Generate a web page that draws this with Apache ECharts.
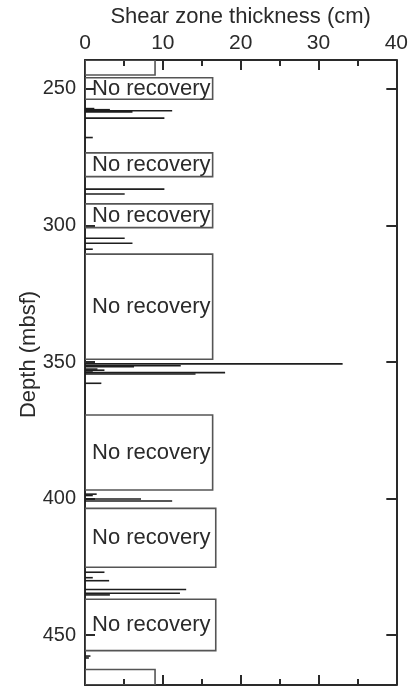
<!DOCTYPE html>
<html>
<head>
<meta charset="utf-8">
<script src="https://cdn.jsdelivr.net/npm/echarts@6/dist/echarts.min.js"></script>
<style>
  html, body { margin: 0; padding: 0; background: #fff; }
  #chart { width: 411px; height: 687px; }
</style>
</head>
<body>
<div id="chart"></div>
<script>
// Shear zones: depth (mbsf) and thickness (cm)
const shearDepth = [
  257.2, 257.6, 258.0, 258.4, 260.7, 267.8,
  286.7, 288.5,
  304.7, 306.5, 308.7,
  350.7, 351.4, 351.7, 352.6, 353.0, 353.3, 353.9, 354.4, 357.8,
  398.4, 398.9, 400.2, 400.9,
  427.0, 429.0, 430.1, 433.3, 434.7, 435.3,
  457.7, 458.4
];
const shearThickness = [
  1.2, 3.2, 11.2, 6.1, 10.2, 1.0,
  10.2, 5.1,
  5.1, 6.1, 1.0,
  33.1, 12.3, 6.3, 1.6, 2.5, 1.0, 18.0, 14.2, 2.1,
  1.5, 1.0, 7.2, 11.2,
  2.5, 1.0, 3.1, 13.0, 12.2, 3.2,
  0.7, 0.5
];

// Intervals without core recovery: top, bottom (mbsf), box width (cm), label
const gapTop    = [239.4, 245.9, 273.4, 292.1, 310.5, 369.4, 403.6, 436.9, 462.6];
const gapBottom = [244.9, 253.8, 282.1, 300.8, 349.0, 396.9, 425.2, 455.7, 468.3];
const gapWidth  = [9.0, 16.4, 16.4, 16.4, 16.4, 16.4, 16.8, 16.8, 9.0];
const gapLabel  = ['', 'No recovery', 'No recovery', 'No recovery', 'No recovery',
                   'No recovery', 'No recovery', 'No recovery', ''];

const depthTicks = [250, 300, 350, 400, 450];
const depthMin = 239.4, depthMax = 468.3;

const FONT = '"Liberation Sans", Arial, Helvetica, sans-serif';
const INK = '#2a2a2a';

const chart = echarts.init(document.getElementById('chart'), null, { renderer: 'canvas' });

const gapData = gapTop.map((t, i) => [t, gapBottom[i], gapWidth[i], gapLabel[i]]);
const shearData = shearDepth.map((d, i) => [shearThickness[i], d]);

const frameLine = { show: true, onZero: false, lineStyle: { color: INK, width: 2 } };

const xAxisBase = {
  type: 'value', min: 0, max: 40, interval: 10,
  axisLine: frameLine,
  axisTick: { show: true, inside: true, length: 10, lineStyle: { color: INK, width: 2 } },
  minorTick: { show: true, splitNumber: 2, length: 6, lineStyle: { color: INK, width: 2 } },
  splitLine: { show: false }
};
const yAxisBase = {
  type: 'value', min: depthMin, max: depthMax, inverse: true,
  axisLine: frameLine,
  axisTick: { show: true, inside: true, length: 10, customValues: depthTicks,
              lineStyle: { color: INK, width: 2 } },
  splitLine: { show: false }
};

chart.setOption({
  animation: false,
  backgroundColor: '#fff',
  grid: { left: 85, right: 11, top: 60, bottom: 2, containLabel: false },
  xAxis: [
    Object.assign({}, xAxisBase, {
      position: 'top',
      name: 'Shear zone thickness (cm)',
      nameLocation: 'middle', nameGap: 32,
      nameTextStyle: { fontFamily: FONT, fontSize: 22, color: INK },
      axisLabel: { show: true, margin: 6, fontFamily: FONT, fontSize: 21, color: INK }
    }),
    Object.assign({}, xAxisBase, {
      position: 'bottom',
      axisLabel: { show: false }
    })
  ],
  yAxis: [
    Object.assign({}, yAxisBase, {
      position: 'left',
      name: 'Depth (mbsf)',
      nameLocation: 'middle', nameGap: 45, nameMoveOverlap: false,
      nameTextStyle: { fontFamily: FONT, fontSize: 22, color: INK, padding: [0, 0, 0, 36] },
      axisLabel: { show: true, margin: 9, customValues: depthTicks,
                   fontFamily: FONT, fontSize: 20, color: INK }
    }),
    Object.assign({}, yAxisBase, {
      position: 'right',
      axisLabel: { show: false }
    })
  ],
  series: [
    {
      type: 'custom',
      xAxisIndex: 0, yAxisIndex: 0,
      clip: true,
      encode: { x: 2, y: [0, 1] },
      data: gapData,
      renderItem: function (params, api) {
        const top = api.value(0), bottom = api.value(1), w = api.value(2);
        const label = gapData[params.dataIndex][3];
        const p0 = api.coord([0, top]);
        const p1 = api.coord([w, bottom]);
        const children = [{
          type: 'rect',
          shape: { x: p0[0], y: p0[1], width: p1[0] - p0[0], height: p1[1] - p0[1] },
          style: { fill: 'none', stroke: '#555', lineWidth: 1.6 }
        }];
        if (label) {
          children.push({
            type: 'text',
            style: {
              text: label, x: p0[0] + 7, y: (p0[1] + p1[1]) / 2,
              verticalAlign: 'middle', align: 'left',
              font: '22px ' + FONT, fill: INK
            }
          });
        }
        return { type: 'group', children: children };
      }
    },
    {
      type: 'custom',
      xAxisIndex: 0, yAxisIndex: 0,
      clip: true,
      encode: { x: 0, y: 1 },
      data: shearData,
      renderItem: function (params, api) {
        const t = api.value(0), d = api.value(1);
        const a = api.coord([0, d]);
        const b = api.coord([t, d]);
        return {
          type: 'line',
          shape: { x1: a[0], y1: a[1], x2: b[0], y2: b[1] },
          style: { stroke: '#1e1e1e', lineWidth: 1.6 }
        };
      }
    }
  ]
});
</script>
</body>
</html>
